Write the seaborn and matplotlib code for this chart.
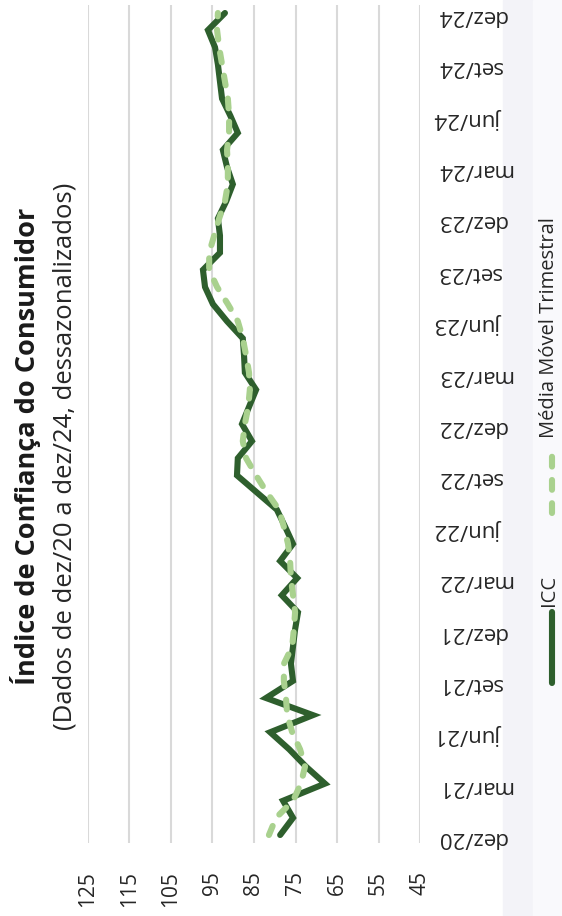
import numpy as np
import pandas as pd
import matplotlib
matplotlib.use("Agg")
import matplotlib.pyplot as plt
import seaborn as sns
from matplotlib.lines import Line2D
from matplotlib.patches import Rectangle

# ===============================
# DATA (monthly, dez/20 .. dez/24)
# ===============================
icc = [78.7, 75.6, 78.0, 67.9, 72.5, 76.5, 81.1, 70.8, 82.1, 75.6,
       76.1, 75.6, 75.1, 74.4, 78.3, 74.6, 78.7, 75.6, 77.5, 79.5,
       84.3, 89.1, 88.9, 85.5, 87.9, 86.2, 84.5, 87.2, 87.4, 87.7,
       91.5, 94.9, 96.8, 97.3, 93.2, 93.2, 93.7, 91.7, 90.1, 91.5,
       92.5, 88.9, 90.7, 92.7, 93.2, 93.7, 94.4, 96.1, 92.0]

media_movel = [81.4, 79.7, 75.6, 73.7, 72.7, 73.9, 75.8, 77.0, 77.3, 77.8,
               77.8, 75.8, 75.4, 75.1, 75.6, 76.1, 76.3, 76.8, 77.8, 79.0,
               81.9, 84.5, 86.9, 87.7, 87.2, 86.4, 86.0, 86.2, 86.9, 87.7,
               88.9, 91.3, 93.9, 95.8, 95.8, 94.6, 93.4, 92.0, 91.3, 91.3,
               91.5, 91.0, 91.0, 91.3, 92.0, 92.7, 93.4, 93.9, 93.7]

tick_labels = ["dez/20", "mar/21", "jun/21", "set/21", "dez/21", "mar/22",
               "jun/22", "set/22", "dez/22", "mar/23", "jun/23", "set/23",
               "dez/23", "mar/24", "jun/24", "set/24", "dez/24"]
value_ticks = [125, 115, 105, 95, 85, 75, 65, 55, 45]

TITLE = "Índice de Confiança do Consumidor"
SUBTITLE = "(Dados de dez/20 a dez/24, dessazonalizados)"

DARK = "#2e5f2d"
LIGHT = "#a9d18e"
GRID = "#d9d9d9"

# ===============================
# FIGURE
# ===============================
sns.set_theme(style="white")
plt.rcParams["font.family"] = ["Open Sans", "DejaVu Sans"]

W, H = 562, 916
fig = plt.figure(figsize=(W / 100, H / 100), dpi=100)

def px(x, y):
    return x / W, 1 - y / H

# light slide strips on the right
fig.add_artist(Rectangle(px(503, H), 30 / W, 1, transform=fig.transFigure,
                         color="#f3f3f8", zorder=0))
fig.add_artist(Rectangle(px(533, H), 29 / W, 1, transform=fig.transFigure,
                         color="#f9f9fc", zorder=0))

ax = fig.add_axes([88 / W, 1 - 843 / H, (420 - 88) / W, (843 - 5) / H])
ax.patch.set_alpha(0)

df = pd.DataFrame({
    "pos": np.arange(len(icc)),
    "ICC": icc,
    "Média Móvel Trimestral": media_movel,
})

# time runs along y, so the lines are oriented on y
sns.lineplot(data=df, x="Média Móvel Trimestral", y="pos", orient="y",
             sort=False, errorbar=None, color=LIGHT, lw=4.4, ax=ax, zorder=3)
ax.lines[-1].set_dashes((1.6, 2.2))
ax.lines[-1].set_dash_capstyle("round")
sns.lineplot(data=df, x="ICC", y="pos", orient="y",
             sort=False, errorbar=None, color=DARK, lw=4.4, ax=ax, zorder=2)
ax.lines[-1].set_solid_joinstyle("miter")

ax.set_xlim(125, 45)
ax.set_ylim(-0.467, len(icc) - 1 + 0.467)
ax.set_xticks(value_ticks)
ax.set_xticklabels([str(v) for v in value_ticks], rotation=90, fontsize=15,
                   color="#262626")
ax.set_yticks(np.arange(0, len(icc), 3))
ax.set_yticklabels(tick_labels, rotation=180, fontsize=16, color="#262626")
ax.yaxis.tick_right()
ax.tick_params(axis="x", length=0, pad=20)
ax.tick_params(axis="y", length=0, pad=12)
ax.grid(axis="x", color=GRID, lw=1.5)
ax.set_axisbelow(True)
for s in ax.spines.values():
    s.set_visible(False)
ax.set_xlabel("")
ax.set_ylabel("")

# ===============================
# TITLE
# ===============================
fig.text(*px(26, 446), TITLE, rotation=90, ha="center", va="center",
         fontsize=19.5, fontweight="bold", color="#1a1a1a")
fig.text(*px(65, 456), SUBTITLE, rotation=90, ha="center", va="center",
         fontsize=18.5, color="#262626")

# ===============================
# LEGEND (rotated)
# ===============================
fig.add_artist(Line2D([552 / W, 552 / W], [1 - 683 / H, 1 - 612 / H],
                      transform=fig.transFigure, color=DARK, lw=4.4,
                      solid_capstyle="round"))
fig.text(*px(549, 606), "ICC", rotation=90, ha="center", va="bottom",
         fontsize=14.5, color="#262626")
fig.add_artist(Line2D([552 / W, 552 / W], [1 - 513 / H, 1 - 452 / H],
                      transform=fig.transFigure, color=LIGHT, lw=4.4,
                      dashes=(1.6, 2.2), dash_capstyle="round"))
fig.text(*px(549, 438), "Média Móvel Trimestral", rotation=90, ha="center",
         va="bottom", fontsize=14.5, color="#262626")

fig.savefig("out.png", dpi=100)
